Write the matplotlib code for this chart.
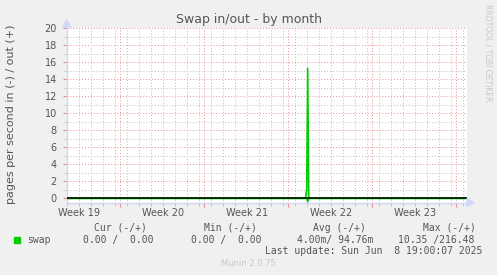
import matplotlib.pyplot as plt
from matplotlib.patches import Polygon
from matplotlib.lines import Line2D
from matplotlib.ticker import MultipleLocator

# time axis in days from the left edge of the graph
days = [0.0, 19.9, 20.0, 20.08, 20.17, 20.3, 33.33]
swap_out = [0.0, 0.0, 1.0, 15.3, 0.0, 0.0, 0.0]
swap_in = [0.0, 0.0, 0.0, 0.4, 0.0, 0.0, 0.0]

week_labels = ["Week 19", "Week 20", "Week 21", "Week 22", "Week 23"]
week_label_days = [1.0, 8.0, 15.0, 22.0, 29.0]
week_start_days = [4.47, 11.47, 18.47, 25.47, 32.47]

headers = ["Cur (-/+)", "Min (-/+)", "Avg (-/+)", "Max (-/+)"]
values = ["0.00 /  0.00", "0.00 /  0.00", "4.00m/ 94.76m", "10.35 /216.48"]

W, H = 497, 275
fig = plt.figure(figsize=(W / 100, H / 100), dpi=100, facecolor="#f0f0f0")

def fx(px):
    return px / W

def fy(py):
    return 1 - py / H

# plot area in pixels
x0, x1 = 66.7, 466.7
ytop, ybot = 28.3, 202.5
ax = fig.add_axes([fx(x0), fy(ybot), (x1 - x0) / W, (ybot - ytop) / H])
ax.set_facecolor("white")
ax.set_xlim(0, 33.33)
ax.set_ylim(-0.49, 20)

# grid
ax.xaxis.set_minor_locator(MultipleLocator(1))
ax.set_xticks(week_start_days)
ax.set_xticklabels([])
ax.yaxis.set_major_locator(MultipleLocator(2))
ax.yaxis.set_minor_locator(MultipleLocator(1))
ax.grid(which="minor", color="#bdbdbd", linestyle=(0, (1, 2)), linewidth=0.7)
ax.grid(which="major", color="#e49090", linestyle=(0, (1, 2)), linewidth=0.7)
ax.tick_params(axis="x", which="major", length=3, color="#e49090")
ax.tick_params(axis="x", which="minor", length=2, color="#bdbdbd")
ax.tick_params(axis="y", which="major", length=3, color="#e49090", labelsize=7,
               labelcolor="#555555", pad=4)
ax.tick_params(axis="y", which="minor", length=2, color="#bdbdbd")
ax.set_axisbelow(True)

for s in ["top", "right"]:
    ax.spines[s].set_visible(False)
for s in ["left", "bottom"]:
    ax.spines[s].set_color("#d0d8f8")
    ax.spines[s].set_linewidth(1.0)

# axis arrows (drawn in figure pixels)
axis_col = "#d0d8f8"
fig.lines.append(Line2D([fx(x1), fx(468)], [fy(ybot), fy(ybot)],
                        transform=fig.transFigure, color=axis_col, lw=1))
fig.lines.append(Line2D([fx(x0), fx(x0)], [fy(ytop), fy(25)],
                        transform=fig.transFigure, color=axis_col, lw=1))
fig.patches.append(Polygon([(fx(467), fy(ybot - 4)), (fx(474), fy(ybot)),
                            (fx(467), fy(ybot + 4))], closed=True,
                           transform=fig.transFigure, color=axis_col))
fig.patches.append(Polygon([(fx(x0 - 4), fy(27)), (fx(x0), fy(20)),
                            (fx(x0 + 4), fy(27))], closed=True,
                           transform=fig.transFigure, color=axis_col))

# data
ax.plot(days, [-v for v in swap_in], color="#00cc00", linewidth=1.2, zorder=4)
ax.plot(days, swap_out, color="#00cc00", linewidth=1.2, zorder=4)
ax.axhline(0, color="black", linewidth=1.1, zorder=5)

for d, lab in zip(week_label_days, week_labels):
    ax.text(d, -1.1, lab, ha="center", va="top", fontsize=7, color="#555555")

fig.text(fx(248.5), fy(19), "Swap in/out - by month", ha="center", va="center",
         fontsize=9, color="#555555")
fig.text(fx(11), fy(114), "pages per second in (-) / out (+)", rotation=90,
         ha="center", va="center", fontsize=8, color="#555555")
fig.text(fx(488), fy(53), "RRDTOOL / TOBI OETIKER", rotation=270,
         ha="center", va="center", fontsize=5.5, color="#c8c8c8")

mono = "DejaVu Sans Mono"
for lx, h in zip([94.3, 204, 313.3, 422.7], headers):
    fig.text(fx(lx), fy(227.7), h, ha="left", va="center", fontsize=7,
             family=mono, color="#555555")
fig.patches.append(plt.Rectangle((fx(14), fy(242.7)), 6 / W, 6 / H,
                                 transform=fig.transFigure, color="#00cc00"))
fig.text(fx(26.7), fy(239.7), "swap", ha="left", va="center", fontsize=7,
         family=mono, color="#555555")
for lx, v in zip([83.3, 190.7, 297.3, 398.3], values):
    fig.text(fx(lx), fy(239.7), v, ha="left", va="center", fontsize=7,
             family=mono, color="#555555")
fig.text(fx(482.3), fy(251), "Last update: Sun Jun  8 19:00:07 2025",
         ha="right", va="center", fontsize=7, family=mono, color="#555555")
fig.text(fx(248), fy(264), "Munin 2.0.75", ha="center", va="center",
         fontsize=6, color="#c8c8c8")

fig.savefig("out.png", dpi=100, facecolor=fig.get_facecolor())
